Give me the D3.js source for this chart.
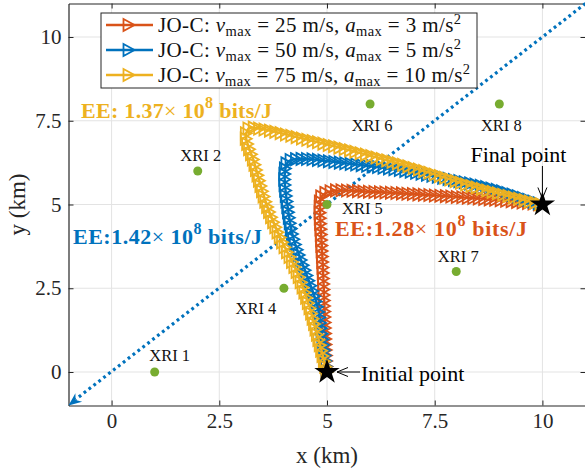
<!DOCTYPE html>
<html><head><meta charset="utf-8">
<script src="https://cdn.jsdelivr.net/npm/d3@7/dist/d3.min.js"></script>
<style>
body{margin:0;background:#fff}
svg{display:block}
text{font-family:"Liberation Serif","Times New Roman",serif;}
</style>
</head><body>
<svg id="c" width="585" height="472"></svg>
<script>
// ---------- data ----------
const xTicks = [0, 2.5, 5, 7.5, 10];
const yTicks = [0, 2.5, 5, 7.5, 10];
const xTickLabels = ["0", "2.5", "5", "7.5", "10"];
const yTickLabels = ["0", "2.5", "5", "7.5", "10"];

const xriNames = ["XRI 1", "XRI 2", "XRI 4", "XRI 5", "XRI 6", "XRI 7", "XRI 8"];
const xriX = [1, 2, 4, 5, 6, 8, 9];
const xriY = [0, 6, 2.5, 5, 8, 3, 8];

const vmax = [25, 50, 75];
const amax = [3, 5, 10];
const eeValues = ["1.28", "1.42", "1.37"];

const trajV25 = [[5,0],[4.97,1],[4.94,2],[4.91,3],[4.87,4],[4.84,4.9],[4.88,5.25],[5.1,5.4],[6,5.38],[7.4,5.28],[9,5.13],[10,5]];
const trajV50 = [[5,0],[4.9,1],[4.77,2],[4.5,3],[4.22,4],[4.08,5],[4.02,5.9],[4.1,6.28],[4.4,6.36],[5.5,6.22],[6.7,6.03],[8,5.72],[9,5.42],[10,5]];
const trajV75 = [[5,0],[4.8,1],[4.58,2],[4.3,3],[3.92,4],[3.6,5],[3.3,6.3],[3.12,7.05],[3.2,7.28],[3.5,7.25],[4.5,6.95],[5.5,6.63],[7,6.1],[8.5,5.5],[10,5]];

const initialPoint = [5, 0];
const finalPoint = [10, 5];
const diagStart = [11, 11];
const diagEnd = [-1, -1];

// ---------- layout / style ----------
const colors = ["#D95319", "#0072BD", "#EDB120"];
const xriColor = "#77AC30";
const axisColor = "#262626";
const svg = d3.select("#c");

const x = d3.scaleLinear().domain([-1, 11]).range([68.5, 585.5]);
const y = d3.scaleLinear().domain([-1, 11]).range([405.5, 3.5]);

// grid
const g = svg.append("g");
g.selectAll(".gx").data(xTicks).join("line")
  .attr("x1", d => x(d)).attr("x2", d => x(d)).attr("y1", y(-1)).attr("y2", y(11))
  .attr("stroke", "#e3e3e3").attr("stroke-width", 1);
g.selectAll(".gy").data(yTicks).join("line")
  .attr("y1", d => y(d)).attr("y2", d => y(d)).attr("x1", x(-1)).attr("x2", x(11))
  .attr("stroke", "#e3e3e3").attr("stroke-width", 1);

// axes
const xAxisB = d3.axisBottom(x).tickValues(xTicks).tickFormat((d,i) => xTickLabels[i]).tickSizeInner(-5).tickSizeOuter(0).tickPadding(12);
const xAxisT = d3.axisTop(x).tickValues(xTicks).tickFormat("").tickSizeInner(-5).tickSizeOuter(0);
const yAxisL = d3.axisLeft(y).tickValues(yTicks).tickFormat((d,i) => yTickLabels[i]).tickSizeInner(-5).tickSizeOuter(0).tickPadding(7);
const yAxisR = d3.axisRight(y).tickValues(yTicks).tickFormat("").tickSizeInner(-5).tickSizeOuter(0);

function styleAxis(sel){
  sel.select(".domain").attr("stroke", axisColor).attr("stroke-width", 1.2);
  sel.selectAll(".tick line").attr("stroke", axisColor).attr("stroke-width", 1);
  sel.selectAll(".tick text").attr("fill", axisColor).style("font-size", "21px")
     .style("font-family", '"Liberation Serif","Times New Roman",serif');
}
const ab = svg.append("g").attr("transform", `translate(0,${y(-1)})`).call(xAxisB); styleAxis(ab);
const at = svg.append("g").attr("transform", `translate(0,${y(11)})`).call(xAxisT); styleAxis(at);
const al = svg.append("g").attr("transform", `translate(${x(-1)},0)`).call(yAxisL); styleAxis(al);
const ar = svg.append("g").attr("transform", `translate(${x(11)},0)`).call(yAxisR); styleAxis(ar);
ab.selectAll(".tick text").attr("dy", "0.5em");

svg.append("text").attr("x", x(5)).attr("y", 463).attr("text-anchor", "middle")
  .style("font-size", "23px").attr("fill", axisColor).text("x (km)");
svg.append("text").attr("transform", `translate(25,${y(5)}) rotate(-90)`).attr("text-anchor", "middle")
  .style("font-size", "23px").attr("fill", axisColor).text("y (km)");

// diagonal dotted line
const cDiag = colors[1];
svg.append("line")
  .attr("x1", x(diagStart[0])).attr("y1", y(diagStart[1]))
  .attr("x2", x(diagEnd[0]) + 7).attr("y2", y(diagEnd[1]) - 6)
  .attr("stroke", cDiag).attr("stroke-width", 3.2).attr("stroke-dasharray", "2.8 3.4");
{
  const tx = x(diagEnd[0]), ty = y(diagEnd[1]);
  const ang = Math.atan2(y(diagEnd[1]) - y(diagStart[1]), x(diagEnd[0]) - x(diagStart[0]));
  const L = 13, Wd = 5.5;
  const bx = tx - L*Math.cos(ang), by = ty - L*Math.sin(ang);
  const px = -Math.sin(ang), py = Math.cos(ang);
  svg.append("path")
    .attr("d", `M${tx},${ty} L${bx+Wd*px},${by+Wd*py} L${bx+4*Math.cos(ang)},${by+4*Math.sin(ang)} L${bx-Wd*px},${by-Wd*py} Z`)
    .attr("fill", cDiag);
}

// trajectories
const trajs = [trajV25, trajV50, trajV75];
const line = d3.line().x(d => x(d[0])).y(d => y(d[1])).curve(d3.curveCatmullRom.alpha(0.5));
const tri = "M-5.5,-6 L5.5,0 L-5.5,6 Z";
trajs.forEach((t, i) => {
  const p = svg.append("path").attr("d", line(t)).attr("fill", "none")
    .attr("stroke", colors[i]).attr("stroke-width", 2.4);
  const node = p.node();
  const Ltot = node.getTotalLength();
  const step = 5.5;
  const mg = svg.append("g");
  for (let s = 0; s <= Ltot + 0.1; s += step) {
    const pt = node.getPointAtLength(Math.min(s, Ltot));
    mg.append("path").attr("d", tri).attr("transform", `translate(${pt.x},${pt.y})`)
      .attr("fill", "none").attr("stroke", colors[i]).attr("stroke-width", 1.8);
  }
});

// XRI points
const xriLabelDx = [15, 3, -28, 15, 2, 2, 2];
const xriLabelDy = [-11, -10, 26, 9, 27, -10, 27];
const xriAnchor = ["middle","middle","middle","start","middle","middle","middle"];
xriNames.forEach((n, i) => {
  svg.append("circle").attr("cx", x(xriX[i])).attr("cy", y(xriY[i])).attr("r", 4.5).attr("fill", xriColor);
  svg.append("text").attr("x", x(xriX[i]) + xriLabelDx[i]).attr("y", y(xriY[i]) + xriLabelDy[i])
    .attr("text-anchor", xriAnchor[i]).style("font-size", "16.5px").attr("fill", "#111").text(n);
});

// stars
const star = d3.symbol().type(d3.symbolStar).size(200);
[initialPoint, finalPoint].forEach(p => {
  svg.append("path").attr("d", star()).attr("transform", `translate(${x(p[0])},${y(p[1])})`)
    .attr("fill", "#000");
});

// annotations
const fx = x(finalPoint[0]), fy = y(finalPoint[1]);
svg.append("text").attr("x", fx - 24).attr("y", 162).attr("text-anchor", "middle")
  .style("font-size", "22px").attr("fill", "#000").text("Final point");
svg.append("line").attr("x1", fx).attr("y1", 166).attr("x2", fx).attr("y2", fy - 6).attr("stroke", "#000").attr("stroke-width", 1);
svg.append("path").attr("d", `M${fx-4.5},${fy-17} L${fx},${fy-6} L${fx+4.5},${fy-17}`).attr("fill", "none").attr("stroke", "#000").attr("stroke-width", 1);

const ix = x(initialPoint[0]), iy = y(initialPoint[1]);
svg.append("text").attr("x", ix + 34).attr("y", iy + 9).style("font-size", "22px").attr("fill", "#000").text("Initial point");
svg.append("line").attr("x1", ix + 33).attr("y1", iy).attr("x2", ix + 10).attr("y2", iy).attr("stroke", "#000").attr("stroke-width", 1);
svg.append("path").attr("d", `M${ix+21},${iy-4.5} L${ix+10},${iy} L${ix+21},${iy+4.5}`).attr("fill", "none").attr("stroke", "#000").attr("stroke-width", 1);

// EE labels
const eeX = [335, 73, 81];
const eeY = [236, 244, 118];
const eeLen = [192, 189, 191];
const eeSep = [":", ":", ": "];
eeValues.forEach((v, i) => {
  const t = svg.append("text").attr("x", eeX[i]).attr("y", eeY[i]).attr("fill", colors[i])
    .style("font-size", "22px").style("font-weight", "bold")
    .attr("textLength", eeLen[i]).attr("lengthAdjust", "spacing");
  t.append("tspan").text(`EE${eeSep[i]}${v}`);
  t.append("tspan").style("font-weight", "normal").text("\u00d7 ");
  t.append("tspan").text("10");
  t.append("tspan").attr("dy", -10).style("font-size", "16px").text("8");
  t.append("tspan").attr("dy", 10).text(" bits/J");
});

// legend
const lg = svg.append("g");
const legLen = [303, 303, 312];
lg.append("rect").attr("x", 101).attr("y", 13).attr("width", 376).attr("height", 75)
  .attr("fill", "#fff").attr("stroke", axisColor).attr("stroke-width", 1);
vmax.forEach((v, i) => {
  const ry = 25 + i * 25;
  lg.append("line").attr("x1", 106).attr("x2", 153).attr("y1", ry).attr("y2", ry)
    .attr("stroke", colors[i]).attr("stroke-width", 2.4);
  lg.append("path").attr("d", tri).attr("transform", `translate(129,${ry})`)
    .attr("fill", "none").attr("stroke", colors[i]).attr("stroke-width", 1.8);
  const t = lg.append("text").attr("x", 158).attr("y", ry + 7).style("font-size", "21px").attr("fill", "#111")
    .attr("textLength", legLen[i]).attr("lengthAdjust", "spacing");
  t.append("tspan").text("JO-C: ");
  t.append("tspan").style("font-style", "italic").text("v");
  t.append("tspan").attr("dy", 4).style("font-size", "14.5px").text("max");
  t.append("tspan").attr("dy", -4).text(` = ${v} m/s, `);
  t.append("tspan").style("font-style", "italic").text("a");
  t.append("tspan").attr("dy", 4).style("font-size", "14.5px").text("max");
  t.append("tspan").attr("dy", -4).text(` = ${amax[i]} m/s`);
  t.append("tspan").attr("dy", -8).style("font-size", "14.5px").text("2");
});
</script>
</body></html>
